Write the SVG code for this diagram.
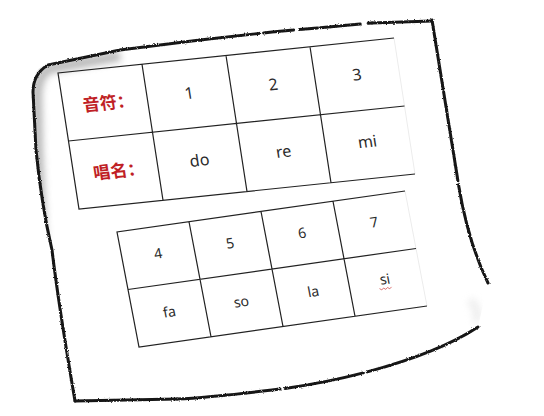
<svg xmlns="http://www.w3.org/2000/svg" width="544" height="416" viewBox="0 0 544 416">
<style>
.edge{fill:none;stroke:#151515;stroke-width:3;stroke-linecap:round;stroke-linejoin:round}
.ln{fill:none;stroke:#222;stroke-width:1.2}
.faint{fill:none;stroke:#ececec;stroke-width:1}
.t1{font-family:"Noto Sans","Open Sans","Noto Sans CJK SC",sans-serif;font-size:16px;fill:#2b2b2b;text-anchor:middle}
.t2{font-family:"Noto Sans","Open Sans","Noto Sans CJK SC",sans-serif;font-size:14px;fill:#2b2b2b;text-anchor:middle}
.cn{font-family:"Noto Sans CJK SC","Noto Sans",sans-serif;font-size:17px;font-weight:bold;fill:#c01f26;text-anchor:middle}
</style>
<defs>
<filter id="rough" filterUnits="userSpaceOnUse" x="0" y="0" width="544" height="416">
<feTurbulence type="fractalNoise" baseFrequency="0.7" numOctaves="2" seed="4" result="n"/>
<feDisplacementMap in="SourceGraphic" in2="n" scale="2.5" xChannelSelector="R" yChannelSelector="G"/>
<feGaussianBlur stdDeviation="0.5"/>
</filter>
<filter id="soft" filterUnits="userSpaceOnUse" x="0" y="0" width="544" height="416">
<feGaussianBlur stdDeviation="3.5"/>
</filter>
<clipPath id="paperClip">
<path d="M36,72 Q33,80 33,92 L36,150 C40,190 45,220 52,250 L75,401 L177,399 C200,398 230,395 272,390 C360,380 440,352 478,327 L488,283 C472,250 462,210 457,175 L432,20 L272,32 L120,50 L48,64 Q40,66 36,72 Z"/>
</clipPath>
</defs>
<rect width="544" height="416" fill="#fff"/>
<g id="paper">
<path d="M36,72 Q33,80 33,92 L36,150 C40,190 45,220 52,250 L75,401 L177,399 C200,398 230,395 272,390 C360,380 440,352 478,327 L488,283 C472,250 462,210 457,175 L432,20 L272,32 L120,50 L48,64 Q40,66 36,72 Z" fill="#fff"/>
<g clip-path="url(#paperClip)">
<path d="M42,240 L38,150 L37,95 Q38,72 52,68 L120,56" fill="none" stroke="#8a8a8a" stroke-width="10" opacity="0.6" filter="url(#soft)"/>
<path d="M62,392 L50,290" fill="none" stroke="#c8c8c8" stroke-width="6" opacity="0.5" filter="url(#soft)"/>
<path d="M470,300 Q480,310 476,322" fill="none" stroke="#e2e2e2" stroke-width="8" opacity="0.6" filter="url(#soft)"/>
</g>
<g filter="url(#rough)">
<path class="edge" d="M75,401 C68,360 58,300 52,250 C45,220 40,190 36,150 L33,92 Q33,74 48,65 L120,50 L200,40" stroke-width="3.4"/>
<path class="edge" d="M200,40 L272,32 L372,23" stroke-dasharray="60 4 30 6 18 3 40 8"/>
<path class="edge" d="M372,23 L432,21" stroke="#bbb" stroke-width="1.5"/>
<path class="edge" d="M432,20 L457,175 C462,210 472,250 488,283" stroke-dasharray="70 3 90 4 200"/>
<path class="edge" d="M478,327 C440,352 360,380 272,390 C230,395 200,398 177,399" stroke-dasharray="120 4 80 5 200"/>
<path class="edge" d="M177,399 L75,401" stroke="#d6d6d6" stroke-width="1.5"/>
</g>
</g>
<g id="table1" transform="matrix(1,-0.1042,0.1544,1,58,73)">
<path class="faint" d="M336,0 V136"/>
<path class="ln" d="M336,0 H0 V136 H336 M0,68 H336 M84,0 V136 M168,0 V136 M252,0 V136"/>
<text class="cn" x="45" y="40.5">音符：</text>
<text class="cn" x="45" y="108.5">唱名：</text>
<text class="t1" x="126" y="39">1</text>
<text class="t1" x="210" y="39">2</text>
<text class="t1" x="294" y="38">3</text>
<text class="t1" x="126" y="106">do</text>
<text class="t1" x="210" y="106">re</text>
<text class="t1" x="294" y="105">mi</text>
</g>
<g id="table2" transform="matrix(1,-0.1424,0.1913,1,117,232)">
<path class="faint" d="M288,0 V115"/>
<path class="ln" d="M288,0 H0 V115 H288 M0,57.5 H288 M72,0 V115 M144,0 V115 M216,0 V115"/>
<text class="t2" x="36" y="31.5">4</text>
<text class="t2" x="108" y="31.5">5</text>
<text class="t2" x="180" y="31.5">6</text>
<text class="t2" x="252" y="31">7</text>
<text class="t2" x="36" y="90">fa</text>
<text class="t2" x="108" y="90">so</text>
<text class="t2" x="180" y="90">la</text>
<text class="t2" x="252" y="88">si</text>
<path d="M245,91.5 l2,1.6 l2,-1.6 l2,1.6 l2,-1.6 l2,1.6 l2,-1.6" fill="none" stroke="#d04848" stroke-width="0.7"/>
</g>
</svg>
